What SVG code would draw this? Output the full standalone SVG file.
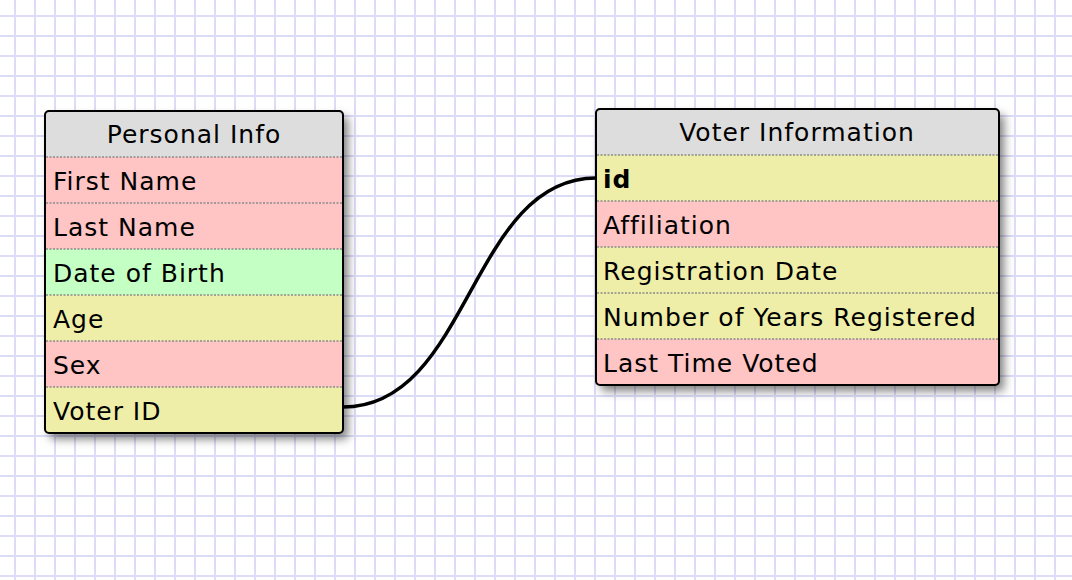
<svg xmlns="http://www.w3.org/2000/svg" width="1072" height="580" viewBox="0 0 1072 580">
<defs>
<pattern id="grid" x="0" y="0" width="20" height="20" patternUnits="userSpaceOnUse">
<rect width="20" height="20" fill="#ffffff"/>
<rect x="14" y="0" width="2" height="20" fill="#dcdcf7"/>
<rect x="0" y="15" width="20" height="2" fill="#dcdcf7"/>
</pattern>
<filter id="shadow" x="-15%" y="-15%" width="140%" height="140%">
<feDropShadow dx="5" dy="6" stdDeviation="5" flood-color="#000" flood-opacity="0.5"/>
</filter>
<clipPath id="clipA"><rect x="45" y="111" width="298" height="322" rx="4"/></clipPath>
<clipPath id="clipB"><rect x="596" y="109" width="403" height="276" rx="4"/></clipPath>
</defs>
<style>
text{font-family:"DejaVu Sans",Verdana,sans-serif;font-size:25px;fill:#000;letter-spacing:1px}
.hd{fill:#dddddd}
.pk{fill:#ffc4c4}
.gr{fill:#c4ffc4}
.ye{fill:#eeeea8}
.sep{stroke:#8a8a8a;stroke-width:1.5;stroke-dasharray:2 1.5}
.frame{fill:none;stroke:#000;stroke-width:2}
.bg{fill:#fff}
.ttl{text-anchor:middle}
</style>
<rect width="1072" height="580" fill="url(#grid)"/>
<g id="connectors">
<path d="M343,407 C470,407 470,178 596,178" fill="none" stroke="#000" stroke-width="3.5"/>
</g>
<g id="personal-info">
<rect class="bg" x="45" y="111" width="298" height="322" rx="4" filter="url(#shadow)"/>
<g clip-path="url(#clipA)">
<rect class="hd" x="45" y="111" width="298" height="46"/>
<rect class="pk" x="45" y="157" width="298" height="46"/>
<rect class="pk" x="45" y="203" width="298" height="46"/>
<rect class="gr" x="45" y="249" width="298" height="46"/>
<rect class="ye" x="45" y="295" width="298" height="46"/>
<rect class="pk" x="45" y="341" width="298" height="46"/>
<rect class="ye" x="45" y="387" width="298" height="46"/>
</g>
<line class="sep" x1="46" y1="157" x2="342" y2="157"/>
<line class="sep" x1="46" y1="203" x2="342" y2="203"/>
<line class="sep" x1="46" y1="249" x2="342" y2="249"/>
<line class="sep" x1="46" y1="295" x2="342" y2="295"/>
<line class="sep" x1="46" y1="341" x2="342" y2="341"/>
<line class="sep" x1="46" y1="387" x2="342" y2="387"/>
<rect class="frame" x="45" y="111" width="298" height="322" rx="4"/>
<text class="ttl" x="194" y="143">Personal Info</text>
<text x="53" y="190">First Name</text>
<text x="53" y="236">Last Name</text>
<text x="53" y="282">Date of Birth</text>
<text x="53" y="328">Age</text>
<text x="53" y="374">Sex</text>
<text x="53" y="420">Voter ID</text>
</g>
<g id="voter-information">
<rect class="bg" x="596" y="109" width="403" height="276" rx="4" filter="url(#shadow)"/>
<g clip-path="url(#clipB)">
<rect class="hd" x="596" y="109" width="403" height="46"/>
<rect class="ye" x="596" y="155" width="403" height="46"/>
<rect class="pk" x="596" y="201" width="403" height="46"/>
<rect class="ye" x="596" y="247" width="403" height="46"/>
<rect class="ye" x="596" y="293" width="403" height="46"/>
<rect class="pk" x="596" y="339" width="403" height="46"/>
</g>
<line class="sep" x1="597" y1="155" x2="998" y2="155"/>
<line class="sep" x1="597" y1="201" x2="998" y2="201"/>
<line class="sep" x1="597" y1="247" x2="998" y2="247"/>
<line class="sep" x1="597" y1="293" x2="998" y2="293"/>
<line class="sep" x1="597" y1="339" x2="998" y2="339"/>
<rect class="frame" x="596" y="109" width="403" height="276" rx="4"/>
<text class="ttl" x="797" y="141">Voter Information</text>
<text x="603" y="188" font-weight="bold">id</text>
<text x="603" y="234">Affiliation</text>
<text x="603" y="280">Registration Date</text>
<text x="603" y="326">Number of Years Registered</text>
<text x="603" y="372">Last Time Voted</text>
</g>
</svg>
